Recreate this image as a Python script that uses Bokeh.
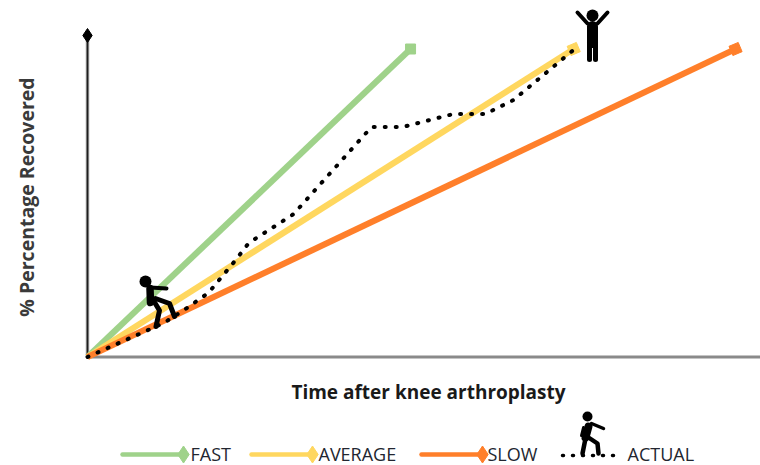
from bokeh.plotting import figure
from bokeh.embed import file_html
from bokeh.resources import INLINE
from bokeh.core.properties import value

# chart values (time and recovery, in percent of the full range)
fast_x = [0, 49.7]
fast_y = [0, 100]
average_x = [0, 74.8]
average_y = [0, 100]
slow_x = [0, 99.7]
slow_y = [0, 100]
actual_x = [0, 11.7, 14.6, 18.6, 22.8, 24.8, 31.7, 43.7, 48.5, 56.3, 61.2, 65.5, 74.6]
actual_y = [0, 11.0, 14.9, 20.8, 31.5, 37.0, 46.4, 74.7, 74.7, 78.9, 78.9, 83.4, 99.4]
legend_names = ["FAST", "AVERAGE", "SLOW", "ACTUAL"]
x_title = "Time after knee arthroplasty"
y_title = "% Percentage Recovered"

GREEN = "#9FD28A"
YELLOW = "#FFD75F"
ORANGE = "#FF7F2A"
FONT = "Open Sans"

W, H = 760, 465


def X(px):
    return (px - 87) / 6.5


def Y(py):
    return (356.5 - py) / 3.08


p = figure(width=W, height=H, output_backend="svg", toolbar_location=None,
           x_range=(X(0), X(W)), y_range=(Y(H), Y(0)),
           min_border=0, min_border_left=0, min_border_right=0,
           min_border_top=0, min_border_bottom=0,
           x_axis_type=None, y_axis_type=None, outline_line_color=None)
p.grid.visible = False

# axes
p.line([X(87), X(87)], [Y(356), Y(36)], line_color="#a0a0a0", line_width=3.5)
p.line([X(87), X(87)], [Y(356), Y(36)], line_color="#1e1e1e", line_width=1.6)
p.line([X(87), X(760)], [Y(356.5), Y(356.5)], line_color="#8a8a8a", line_width=3)
p.scatter([X(87)], [Y(35)], marker="diamond", size=14, color="#000000")

# series
for xs, ys, col in [(fast_x, fast_y, GREEN), (average_x, average_y, YELLOW), (slow_x, slow_y, ORANGE)]:
    p.line(xs, ys, line_color=col, line_width=6.2)
p.scatter(fast_x[1:], fast_y[1:], marker="square", size=10, color=GREEN)
p.scatter(average_x[1:], average_y[1:], marker="square", size=10, color=YELLOW, angle=0.4)
p.scatter(slow_x[1:], slow_y[1:], marker="square", size=10, color=ORANGE, angle=0.4)
p.line(actual_x, actual_y, line_color="#000000", line_width=4, line_dash="1 10", line_cap="round")

BLACK = "#000000"


def stroke(points, width):
    p.line([X(a) for a, b in points], [Y(b) for a, b in points],
           line_color=BLACK, line_width=width, line_cap="round", line_join="round")


def head(a, b, diameter):
    p.scatter([X(a)], [Y(b)], marker="circle", size=diameter, color=BLACK, line_color=None)


# climber
head(145, 281, 12)
stroke([(149.5, 288), (150, 302)], 7.5)
stroke([(150, 287), (166, 288)], 4)
stroke([(153, 300), (159, 310), (155.5, 326)], 5)
stroke([(155, 298), (169, 303), (174, 316)], 5)

# arms raised
head(592, 15, 12)
stroke([(592, 26), (592, 42)], 11)
stroke([(589, 42), (589, 59)], 5)
stroke([(595, 42), (595, 59)], 5)
stroke([(577, 12), (587, 23)], 4)
stroke([(607, 12), (597, 23)], 4)

# legend
LY = 454
for (a, b), col in [((122, 183), GREEN), ((251, 312), YELLOW), ((421, 482), ORANGE)]:
    p.line([X(a), X(b)], [Y(LY), Y(LY)], line_color=col, line_width=4.5, line_cap="round")
    p.scatter([X(b)], [Y(LY)], marker="diamond", size=17, color=col)
for name, tx in zip(legend_names, [190, 318, 487, 627]):
    p.text([X(tx)], [Y(LY - 0.8)], text=[name], text_font=value(FONT), text_font_size="18px",
           text_color="#222630", text_baseline="middle", text_align="left")
p.line([X(562), X(615)], [Y(455), Y(455)], line_color=BLACK, line_width=3.5, line_dash="1 9", line_cap="round")

# walker
head(587, 416, 10)
stroke([(588, 426), (585, 437)], 8)
stroke([(591, 423), (603, 428)], 3.5)
stroke([(583, 427), (581, 435)], 3)
stroke([(588, 437), (597, 443), (598, 453)], 4.5)
stroke([(585, 438), (582, 453)], 4.5)

# titles
p.text([X(428)], [Y(391.5)], text=[x_title], text_font=value(FONT), text_font_size="19px",
       text_font_style="bold", text_color="#1a1a1a", text_align="center", text_baseline="middle")
p.text([X(26)], [Y(196.5)], text=[y_title], text_font=value(FONT), text_font_size="19.5px",
       text_font_style="bold", text_color="#3a3a3a", text_align="center", text_baseline="middle",
       angle=1.5708)

open("out.html", "w").write(file_html(p, INLINE))
